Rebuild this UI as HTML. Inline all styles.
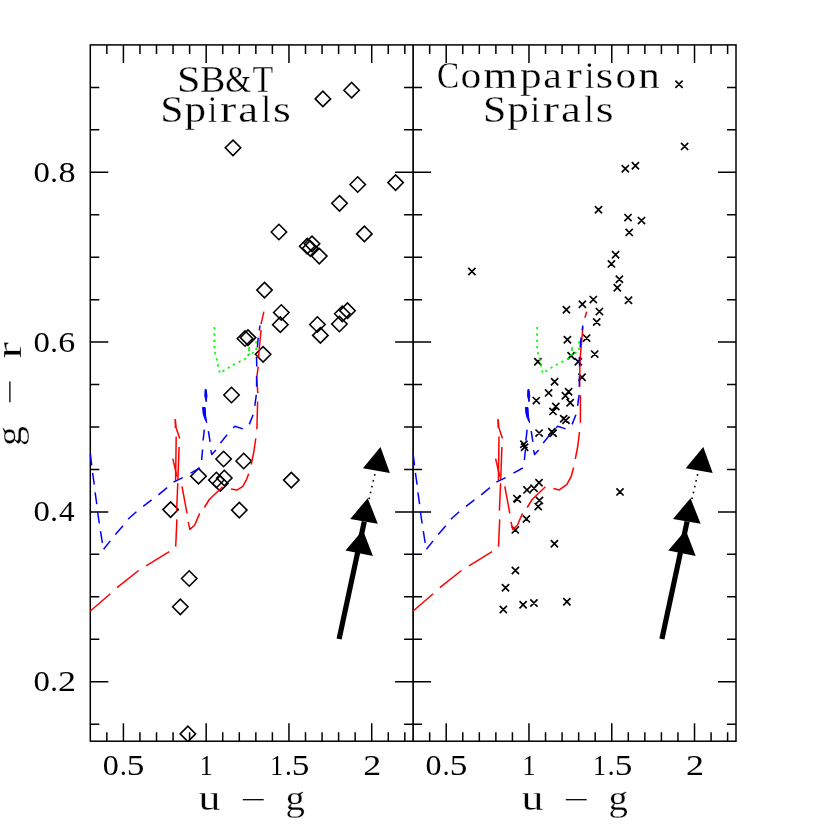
<!DOCTYPE html>
<html><head><meta charset="utf-8"><title>g-r vs u-g</title>
<style>html,body{margin:0;padding:0;background:#fff}svg{display:block;will-change:transform}text{font-family:"Liberation Serif",serif;fill:#000}</style>
</head><body>
<svg width="830" height="830" viewBox="0 0 830 830">
<rect x="0" y="0" width="830" height="830" fill="#fff"/>
<g fill="none" stroke="#000" stroke-width="1.5" stroke-linecap="butt">
<rect x="90.3" y="44.9" width="645.7" height="696.3000000000001"/>
<line x1="413.1" y1="44.9" x2="413.1" y2="741.2" stroke-width="1.7"/>
<path d="M106.85 44.9v9M106.85 741.2v-9M123.41 44.9v18M123.41 741.2v-18M139.96 44.9v9M139.96 741.2v-9M156.52 44.9v9M156.52 741.2v-9M173.07 44.9v9M173.07 741.2v-9M189.62 44.9v9M189.62 741.2v-9M206.18 44.9v18M206.18 741.2v-18M222.73 44.9v9M222.73 741.2v-9M239.28 44.9v9M239.28 741.2v-9M255.84 44.9v9M255.84 741.2v-9M272.39 44.9v9M272.39 741.2v-9M288.95 44.9v18M288.95 741.2v-18M305.50 44.9v9M305.50 741.2v-9M322.05 44.9v9M322.05 741.2v-9M338.61 44.9v9M338.61 741.2v-9M355.16 44.9v9M355.16 741.2v-9M371.72 44.9v18M371.72 741.2v-18M388.27 44.9v9M388.27 741.2v-9M404.82 44.9v9M404.82 741.2v-9M429.65 44.9v9M429.65 741.2v-9M446.21 44.9v18M446.21 741.2v-18M462.76 44.9v9M462.76 741.2v-9M479.32 44.9v9M479.32 741.2v-9M495.87 44.9v9M495.87 741.2v-9M512.42 44.9v9M512.42 741.2v-9M528.98 44.9v18M528.98 741.2v-18M545.53 44.9v9M545.53 741.2v-9M562.08 44.9v9M562.08 741.2v-9M578.64 44.9v9M578.64 741.2v-9M595.19 44.9v9M595.19 741.2v-9M611.75 44.9v18M611.75 741.2v-18M628.30 44.9v9M628.30 741.2v-9M644.85 44.9v9M644.85 741.2v-9M661.41 44.9v9M661.41 741.2v-9M677.96 44.9v9M677.96 741.2v-9M694.52 44.9v18M694.52 741.2v-18M711.07 44.9v9M711.07 741.2v-9M727.62 44.9v9M727.62 741.2v-9M90.3 724.15h9M404.1 724.15h18M736.0 724.15h-9M90.3 681.70h18M395.1 681.70h36M736.0 681.70h-18M90.3 639.25h9M404.1 639.25h18M736.0 639.25h-9M90.3 596.80h9M404.1 596.80h18M736.0 596.80h-9M90.3 554.35h9M404.1 554.35h18M736.0 554.35h-9M90.3 511.90h18M395.1 511.90h36M736.0 511.90h-18M90.3 469.45h9M404.1 469.45h18M736.0 469.45h-9M90.3 427.00h9M404.1 427.00h18M736.0 427.00h-9M90.3 384.55h9M404.1 384.55h18M736.0 384.55h-9M90.3 342.10h18M395.1 342.10h36M736.0 342.10h-18M90.3 299.65h9M404.1 299.65h18M736.0 299.65h-9M90.3 257.20h9M404.1 257.20h18M736.0 257.20h-9M90.3 214.75h9M404.1 214.75h18M736.0 214.75h-9M90.3 172.30h18M395.1 172.30h36M736.0 172.30h-18M90.3 129.85h9M404.1 129.85h18M736.0 129.85h-9M90.3 87.40h9M404.1 87.40h18M736.0 87.40h-9"/>
</g>
<clipPath id="cl"><rect x="90.3" y="44.9" width="322.8" height="696.3000000000001"/></clipPath>
<g fill="none" stroke="#000" stroke-width="1.6" stroke-linejoin="miter" clip-path="url(#cl)">
<path d="M225.3 147.8L233.0 140.1L240.7 147.8L233.0 155.5Z"/>
<path d="M315.2 98.9L322.9 91.2L330.6 98.9L322.9 106.6Z"/>
<path d="M343.9 90.2L351.6 82.5L359.3 90.2L351.6 97.9Z"/>
<path d="M350.0 184.5L357.7 176.8L365.4 184.5L357.7 192.2Z"/>
<path d="M387.9 182.6L395.6 174.9L403.3 182.6L395.6 190.3Z"/>
<path d="M331.8 203.3L339.5 195.6L347.2 203.3L339.5 211.0Z"/>
<path d="M271.2 232.0L278.9 224.3L286.6 232.0L278.9 239.7Z"/>
<path d="M356.7 233.9L364.4 226.2L372.1 233.9L364.4 241.6Z"/>
<path d="M299.5 246.2L307.2 238.5L314.9 246.2L307.2 253.9Z"/>
<path d="M304.3 243.8L312.0 236.1L319.7 243.8L312.0 251.5Z"/>
<path d="M302.5 248.3L310.2 240.6L317.9 248.3L310.2 256.0Z"/>
<path d="M311.6 256.1L319.3 248.4L327.0 256.1L319.3 263.8Z"/>
<path d="M256.8 290.1L264.5 282.4L272.2 290.1L264.5 297.8Z"/>
<path d="M273.6 312.5L281.3 304.8L289.0 312.5L281.3 320.2Z"/>
<path d="M272.6 324.7L280.3 317.0L288.0 324.7L280.3 332.4Z"/>
<path d="M309.7 324.5L317.4 316.8L325.1 324.5L317.4 332.2Z"/>
<path d="M312.7 335.4L320.4 327.7L328.1 335.4L320.4 343.1Z"/>
<path d="M331.7 324.0L339.4 316.3L347.1 324.0L339.4 331.7Z"/>
<path d="M334.6 313.8L342.3 306.1L350.0 313.8L342.3 321.5Z"/>
<path d="M339.8 310.7L347.5 303.0L355.2 310.7L347.5 318.4Z"/>
<path d="M237.3 338.5L245.0 330.8L252.7 338.5L245.0 346.2Z"/>
<path d="M240.3 337.6L248.0 329.9L255.7 337.6L248.0 345.3Z"/>
<path d="M255.4 354.3L263.1 346.6L270.8 354.3L263.1 362.0Z"/>
<path d="M223.8 395.0L231.5 387.3L239.2 395.0L231.5 402.7Z"/>
<path d="M215.9 459.0L223.6 451.3L231.3 459.0L223.6 466.7Z"/>
<path d="M236.0 461.0L243.7 453.3L251.4 461.0L243.7 468.7Z"/>
<path d="M190.8 476.2L198.5 468.5L206.2 476.2L198.5 483.9Z"/>
<path d="M208.7 480.0L216.4 472.3L224.1 480.0L216.4 487.7Z"/>
<path d="M216.6 478.0L224.3 470.3L232.0 478.0L224.3 485.7Z"/>
<path d="M212.6 483.5L220.3 475.8L228.0 483.5L220.3 491.2Z"/>
<path d="M283.6 480.1L291.3 472.4L299.0 480.1L291.3 487.8Z"/>
<path d="M162.9 509.6L170.6 501.9L178.3 509.6L170.6 517.3Z"/>
<path d="M231.6 510.1L239.3 502.4L247.0 510.1L239.3 517.8Z"/>
<path d="M181.5 578.5L189.2 570.8L196.9 578.5L189.2 586.2Z"/>
<path d="M172.6 606.8L180.3 599.1L188.0 606.8L180.3 614.5Z"/>
<path d="M180.2 733.9L187.9 726.2L195.6 733.9L187.9 741.6Z"/>
</g>
<g fill="none" stroke="#000" stroke-width="1.65" stroke-linecap="butt">
<path d="M675.4 80.7L682.6 87.9M675.4 87.9L682.6 80.7M681.0 142.8L688.2 150.0M681.0 150.0L688.2 142.8M621.7 165.1L628.9 172.3M621.7 172.3L628.9 165.1M631.8 162.2L639.0 169.4M631.8 169.4L639.0 162.2M594.9 206.1L602.1 213.3M594.9 213.3L602.1 206.1M624.4 214.0L631.6 221.2M624.4 221.2L631.6 214.0M637.9 217.0L645.1 224.2M637.9 224.2L645.1 217.0M625.6 228.8L632.8 236.0M625.6 236.0L632.8 228.8M612.0 251.1L619.2 258.3M612.0 258.3L619.2 251.1M607.8 260.3L615.0 267.5M607.8 267.5L615.0 260.3M615.8 275.7L623.0 282.9M615.8 282.9L623.0 275.7M613.7 284.2L620.9 291.4M613.7 291.4L620.9 284.2M624.9 296.7L632.1 303.9M624.9 303.9L632.1 296.7M468.3 267.9L475.5 275.1M468.3 275.1L475.5 267.9M589.7 296.0L596.9 303.2M589.7 303.2L596.9 296.0M578.8 300.7L586.0 307.9M578.8 307.9L586.0 300.7M562.8 306.1L570.0 313.3M562.8 313.3L570.0 306.1M595.8 308.0L603.0 315.2M595.8 315.2L603.0 308.0M593.1 318.4L600.3 325.6M593.1 325.6L600.3 318.4M583.0 334.5L590.2 341.7M583.0 341.7L590.2 334.5M563.8 336.2L571.0 343.4M563.8 343.4L571.0 336.2M591.1 350.5L598.3 357.7M591.1 357.7L598.3 350.5M567.5 352.2L574.7 359.4M567.5 359.4L574.7 352.2M574.7 358.1L581.9 365.3M574.7 365.3L581.9 358.1M534.3 358.1L541.5 365.3M534.3 365.3L541.5 358.1M578.4 373.6L585.6 380.8M578.4 380.8L585.6 373.6M551.0 378.1L558.2 385.3M551.0 385.3L558.2 378.1M545.0 389.3L552.2 396.5M545.0 396.5L552.2 389.3M565.0 388.2L572.2 395.4M565.0 395.4L572.2 388.2M561.8 392.2L569.0 399.4M561.8 399.4L569.0 392.2M532.7 397.0L539.9 404.2M532.7 404.2L539.9 397.0M566.6 399.2L573.8 406.4M566.6 406.4L573.8 399.2M552.2 402.9L559.4 410.1M552.2 410.1L559.4 402.9M549.4 407.8L556.6 415.0M549.4 415.0L556.6 407.8M560.1 415.2L567.3 422.4M560.1 422.4L567.3 415.2M562.4 416.6L569.6 423.8M562.4 423.8L569.6 416.6M535.5 429.5L542.7 436.7M535.5 436.7L542.7 429.5M548.3 428.1L555.5 435.3M548.3 435.3L555.5 428.1M549.5 429.6L556.7 436.8M549.5 436.8L556.7 429.6M520.3 440.7L527.5 447.9M520.3 447.9L527.5 440.7M521.0 443.7L528.2 450.9M521.0 450.9L528.2 443.7M535.4 479.2L542.6 486.4M535.4 486.4L542.6 479.2M530.4 484.6L537.6 491.8M530.4 491.8L537.6 484.6M523.4 486.3L530.6 493.5M523.4 493.5L530.6 486.3M513.3 495.0L520.5 502.2M513.3 502.2L520.5 495.0M513.8 495.5L521.0 502.7M513.8 502.7L521.0 495.5M535.8 496.8L543.0 504.0M535.8 504.0L543.0 496.8M534.6 503.0L541.8 510.2M534.6 510.2L541.8 503.0M522.8 515.3L530.0 522.5M522.8 522.5L530.0 515.3M511.7 526.3L518.9 533.5M511.7 533.5L518.9 526.3M616.4 488.3L623.6 495.5M616.4 495.5L623.6 488.3M550.8 540.1L558.0 547.3M550.8 547.3L558.0 540.1M511.8 566.9L519.0 574.1M511.8 574.1L519.0 566.9M501.9 584.2L509.1 591.4M501.9 591.4L509.1 584.2M499.7 605.9L506.9 613.1M499.7 613.1L506.9 605.9M519.5 601.1L526.7 608.3M519.5 608.3L526.7 601.1M530.3 599.4L537.5 606.6M530.3 606.6L537.5 599.4M563.3 598.2L570.5 605.4M563.3 605.4L570.5 598.2"/>
</g>
<g fill="none" stroke-linecap="butt" stroke-linejoin="round">
<path d="M214.40 326.95L214.40 329.25M214.30 333.35L214.30 335.65M214.30 339.65L214.30 341.95M214.29 345.96L214.51 348.24M214.87 352.17L215.33 354.43M216.52 358.28L217.08 360.52M217.72 364.28L218.28 366.52M219.22 370.38L219.78 372.62M222.42 371.59L224.38 370.41M227.72 368.19L229.68 367.01M232.92 365.09L234.88 363.91M238.62 362.19L240.58 361.01M244.12 359.49L246.08 358.31M247.45 355.60L249.95 353.60M248.90 351.09L249.30 347.11M251.89 353.71L253.51 352.09M256.20 347.75L256.20 350.05M256.20 341.25L256.20 343.55" stroke="#00ff00" stroke-width="1.75"/>
<g stroke="#ff0000" stroke-width="1.5">
<polyline points="90.4,611.0 110.3,593.8"/>
<polyline points="117.0,587.7 138.6,570.5"/>
<polyline points="146.1,565.9 169.3,551.6"/>
<polyline points="175.7,546.6 176.9,519.4"/>
<polyline points="176.6,510.6 177.8,483.2"/>
<polyline points="176.2,436.4 175.6,480.8"/>
<polyline points="179.1,447.0 177.9,479.8"/>
<polyline points="172.8,458.7 176.9,476.6"/>
<polyline points="175.3,419.3 176.0,427.5 179.7,438.4"/>
<polyline points="175.3,419.3 175.4,428.0"/>
<polyline points="182.0,486.4 187.0,513.4"/>
<polyline points="188.2,521.8 189.9,529.4 194.6,525.2 199.7,513.4"/>
<polyline points="204.4,507.5 209.3,499.5 222.6,486.8"/>
<polyline points="231.0,488.9 236.9,490.1 242.8,486.4 246.4,479.8 248.7,473.7"/>
<polyline points="251.2,464.5 253.8,452.0 255.8,438.3"/>
<polyline points="256.9,429.3 257.6,401.6"/>
<polyline points="257.8,393.1 256.7,378.1 258.2,366.6"/>
<polyline points="258.6,356.9 261.0,329.9"/>
<polyline points="261.0,324.1 263.9,311.6"/>
</g>
<g stroke="#0000ff" stroke-width="1.5">
<polyline points="90.4,454.3 91.7,465.3"/>
<polyline points="92.6,472.9 94.3,484.7"/>
<polyline points="95.1,492.3 96.8,504.1"/>
<polyline points="97.6,511.7 99.3,523.5"/>
<polyline points="100.5,531.1 102.4,542.9"/>
<polyline points="103.6,549.3 110.3,540.9"/>
<polyline points="115.4,534.5 123.0,525.7"/>
<polyline points="128.0,519.3 136.4,511.7"/>
<polyline points="143.2,506.3 151.6,499.9"/>
<polyline points="158.4,494.8 167.1,487.7"/>
<polyline points="173.5,482.2 182.8,477.6"/>
<polyline points="190.6,473.2 200.0,468.0"/>
<polyline points="201.6,460.0 202.6,449.5"/>
<polyline points="203.1,440.5 204.3,429.6"/>
<polyline points="208.4,431.2 210.1,441.9"/>
<polyline points="210.8,450.2 211.8,454.6 215.9,449.9"/>
<polyline points="220.4,443.0 227.1,434.8"/>
<polyline points="233.2,427.9 235.0,426.3 242.8,428.9"/>
<polyline points="249.3,424.4 253.1,414.8"/>
<polyline points="254.8,405.9 256.3,394.9"/>
<polyline points="256.6,386.6 256.6,376.2"/>
<polyline points="256.8,366.5 256.5,357.0"/>
<polyline points="257.4,347.5 258.2,337.6"/>
<polyline points="259.3,330.4 260.0,325.5"/>
</g>
<polygon points="202.6,407.4 203.2,414.0 204.6,418.5 206.8,422.7 205.6,415.0 205.2,407.6" fill="#0000ff" stroke="#0000ff" stroke-width="1"/>
<polygon points="205.1,389.5 204.8,396.0 206.2,401.8 207.0,396.0 206.2,389.5" fill="#0000ff" stroke="#0000ff" stroke-width="1"/>
</g>
<g fill="none" stroke-linecap="butt" stroke-linejoin="round">
<path d="M537.20 326.95L537.20 329.25M537.10 333.35L537.10 335.65M537.10 339.65L537.10 341.95M537.09 345.96L537.31 348.24M537.67 352.17L538.13 354.43M539.32 358.28L539.88 360.52M540.52 364.28L541.08 366.52M542.02 370.38L542.58 372.62M545.22 371.59L547.18 370.41M550.52 368.19L552.48 367.01M555.72 365.09L557.68 363.91M561.42 362.19L563.38 361.01M566.92 359.49L568.88 358.31M570.25 355.60L572.75 353.60M571.70 351.09L572.10 347.11M574.69 353.71L576.31 352.09M579.00 347.75L579.00 350.05M579.00 341.25L579.00 343.55" stroke="#00ff00" stroke-width="1.75"/>
<g stroke="#ff0000" stroke-width="1.5">
<polyline points="413.2,611.0 433.1,593.8"/>
<polyline points="439.8,587.7 461.4,570.5"/>
<polyline points="468.9,565.9 492.1,551.6"/>
<polyline points="498.5,546.6 499.7,519.4"/>
<polyline points="499.4,510.6 500.6,483.2"/>
<polyline points="499.0,436.4 498.4,480.8"/>
<polyline points="501.9,447.0 500.7,479.8"/>
<polyline points="495.6,458.7 499.7,476.6"/>
<polyline points="498.1,419.3 498.8,427.5 502.5,438.4"/>
<polyline points="498.1,419.3 498.2,428.0"/>
<polyline points="504.8,486.4 509.8,513.4"/>
<polyline points="511.0,521.8 512.7,529.4 517.4,525.2 522.5,513.4"/>
<polyline points="527.2,507.5 532.1,499.5 545.4,486.8"/>
<polyline points="553.4,488.5 559.3,489.9 566.9,484.3 571.1,476.7 573.6,467.5"/>
<polyline points="575.3,459.0 577.8,446.0 579.5,432.0"/>
<polyline points="580.4,422.8 580.4,395.4"/>
<polyline points="579.5,387.0 580.0,360.0 582.9,327.1"/>
<polyline points="584.9,317.8 586.6,311.6"/>
</g>
<g stroke="#0000ff" stroke-width="1.5">
<polyline points="413.2,454.3 414.5,465.3"/>
<polyline points="415.4,472.9 417.1,484.7"/>
<polyline points="417.9,492.3 419.6,504.1"/>
<polyline points="420.4,511.7 422.1,523.5"/>
<polyline points="423.3,531.1 425.2,542.9"/>
<polyline points="426.4,549.3 433.1,540.9"/>
<polyline points="438.2,534.5 445.8,525.7"/>
<polyline points="450.8,519.3 459.2,511.7"/>
<polyline points="466.0,506.3 474.4,499.9"/>
<polyline points="481.2,494.8 489.9,487.7"/>
<polyline points="496.3,482.2 505.6,477.6"/>
<polyline points="513.4,473.2 522.8,468.0"/>
<polyline points="524.4,460.0 525.4,449.5"/>
<polyline points="525.9,440.5 527.1,429.6"/>
<polyline points="531.2,431.2 532.9,441.9"/>
<polyline points="533.6,450.2 534.6,454.6 538.7,449.9"/>
<polyline points="543.2,443.0 549.9,434.8"/>
<polyline points="556.0,427.9 557.8,426.3 565.6,428.9"/>
<polyline points="572.1,424.4 575.9,414.8"/>
<polyline points="577.6,405.9 579.1,394.9"/>
<polyline points="579.4,386.6 579.4,376.2"/>
<polyline points="579.6,366.5 579.3,357.0"/>
<polyline points="580.2,347.5 581.0,337.6"/>
<polyline points="582.1,330.4 582.8,325.5"/>
</g>
<polygon points="525.4,407.4 526.0,414.0 527.4,418.5 529.6,422.7 528.4,415.0 528.0,407.6" fill="#0000ff" stroke="#0000ff" stroke-width="1"/>
<polygon points="527.9,389.5 527.6,396.0 529.0,401.8 529.8,396.0 529.0,389.5" fill="#0000ff" stroke="#0000ff" stroke-width="1"/>
</g>
<g transform="translate(0,0)">
<line x1="339.1" y1="639" x2="364.3" y2="521.5" stroke="#000" stroke-width="5.2"/>
<line x1="369.1" y1="499.1" x2="375.2" y2="472.6" stroke="#000" stroke-width="1.6" stroke-dasharray="1.6 4.4"/>
<polygon points="380.5,447.1 362.9,468.3 389.9,472.9" fill="#000"/>
<polygon points="367.7,498.2 350.2,518.9 377.8,523.7" fill="#000"/>
<polygon points="362.9,530.0 345.5,550.5 372.9,555.9" fill="#000"/>
</g>
<g transform="translate(322.8,0)">
<line x1="339.1" y1="639" x2="364.3" y2="521.5" stroke="#000" stroke-width="5.2"/>
<line x1="369.1" y1="499.1" x2="375.2" y2="472.6" stroke="#000" stroke-width="1.6" stroke-dasharray="1.6 4.4"/>
<polygon points="380.5,447.1 362.9,468.3 389.9,472.9" fill="#000"/>
<polygon points="367.7,498.2 350.2,518.9 377.8,523.7" fill="#000"/>
<polygon points="362.9,530.0 345.5,550.5 372.9,555.9" fill="#000"/>
</g>
<text transform="translate(176.98,92.10) scale(1.139,1)" font-size="37" stroke="#fff" stroke-width="0.3" vector-effect="non-scaling-stroke">S</text>
<text transform="translate(200.01,92.10) scale(1.027,1)" font-size="37" stroke="#fff" stroke-width="0.3" vector-effect="non-scaling-stroke">B</text>
<text transform="translate(225.37,92.10) scale(0.900,1)" font-size="37" stroke="#fff" stroke-width="0.3" vector-effect="non-scaling-stroke">&amp;</text>
<text transform="translate(252.49,92.10) scale(0.915,1)" font-size="37" stroke="#fff" stroke-width="0.3" vector-effect="non-scaling-stroke">T</text>
<text transform="translate(160.20,122.40) scale(1.132,1)" font-size="37" stroke="#fff" stroke-width="0.3" vector-effect="non-scaling-stroke">S</text>
<text transform="translate(184.40,122.40) scale(1.167,1)" font-size="37" stroke="#fff" stroke-width="0.3" vector-effect="non-scaling-stroke">p</text>
<text transform="translate(207.78,122.40) scale(0.932,1)" font-size="37" stroke="#fff" stroke-width="0.3" vector-effect="non-scaling-stroke">i</text>
<text transform="translate(219.92,122.40) scale(1.324,1)" font-size="37" stroke="#fff" stroke-width="0.3" vector-effect="non-scaling-stroke">r</text>
<text transform="translate(238.22,122.40) scale(1.211,1)" font-size="37" stroke="#fff" stroke-width="0.3" vector-effect="non-scaling-stroke">a</text>
<text transform="translate(261.43,122.40) scale(0.909,1)" font-size="37" stroke="#fff" stroke-width="0.3" vector-effect="non-scaling-stroke">l</text>
<text transform="translate(272.92,122.40) scale(1.239,1)" font-size="37" stroke="#fff" stroke-width="0.3" vector-effect="non-scaling-stroke">s</text>
<text transform="translate(483.00,122.40) scale(1.132,1)" font-size="37" stroke="#fff" stroke-width="0.3" vector-effect="non-scaling-stroke">S</text>
<text transform="translate(507.20,122.40) scale(1.167,1)" font-size="37" stroke="#fff" stroke-width="0.3" vector-effect="non-scaling-stroke">p</text>
<text transform="translate(530.58,122.40) scale(0.932,1)" font-size="37" stroke="#fff" stroke-width="0.3" vector-effect="non-scaling-stroke">i</text>
<text transform="translate(542.72,122.40) scale(1.324,1)" font-size="37" stroke="#fff" stroke-width="0.3" vector-effect="non-scaling-stroke">r</text>
<text transform="translate(561.02,122.40) scale(1.211,1)" font-size="37" stroke="#fff" stroke-width="0.3" vector-effect="non-scaling-stroke">a</text>
<text transform="translate(584.23,122.40) scale(0.909,1)" font-size="37" stroke="#fff" stroke-width="0.3" vector-effect="non-scaling-stroke">l</text>
<text transform="translate(595.72,122.40) scale(1.239,1)" font-size="37" stroke="#fff" stroke-width="0.3" vector-effect="non-scaling-stroke">s</text>
<text transform="translate(437.03,87.80) scale(0.900,1)" font-size="37" stroke="#fff" stroke-width="0.3" vector-effect="non-scaling-stroke">C</text>
<text transform="translate(460.62,87.80) scale(1.122,1)" font-size="37" stroke="#fff" stroke-width="0.3" vector-effect="non-scaling-stroke">o</text>
<text transform="translate(483.28,87.80) scale(1.185,1)" font-size="37" stroke="#fff" stroke-width="0.3" vector-effect="non-scaling-stroke">m</text>
<text transform="translate(520.10,87.80) scale(1.173,1)" font-size="37" stroke="#fff" stroke-width="0.3" vector-effect="non-scaling-stroke">p</text>
<text transform="translate(543.22,87.80) scale(1.136,1)" font-size="37" stroke="#fff" stroke-width="0.3" vector-effect="non-scaling-stroke">a</text>
<text transform="translate(566.05,87.80) scale(1.288,1)" font-size="37" stroke="#fff" stroke-width="0.3" vector-effect="non-scaling-stroke">r</text>
<text transform="translate(584.94,87.80) scale(0.900,1)" font-size="37" stroke="#fff" stroke-width="0.3" vector-effect="non-scaling-stroke">i</text>
<text transform="translate(595.86,87.80) scale(1.213,1)" font-size="37" stroke="#fff" stroke-width="0.3" vector-effect="non-scaling-stroke">s</text>
<text transform="translate(615.62,87.80) scale(1.122,1)" font-size="37" stroke="#fff" stroke-width="0.3" vector-effect="non-scaling-stroke">o</text>
<text transform="translate(638.21,87.80) scale(1.170,1)" font-size="37" stroke="#fff" stroke-width="0.3" vector-effect="non-scaling-stroke">n</text>
<text transform="translate(102.78,774.50) scale(1.126,1)" font-size="28.5">0</text>
<text transform="translate(119.91,774.50) scale(0.950,1)" font-size="28.5">.</text>
<text transform="translate(126.85,774.50) scale(1.237,1)" font-size="28.5">5</text>
<text transform="translate(199.63,774.50) scale(0.907,1)" font-size="28.5">1</text>
<text transform="translate(270.23,774.50) scale(0.907,1)" font-size="28.5">1</text>
<text transform="translate(284.91,774.50) scale(0.950,1)" font-size="28.5">.</text>
<text transform="translate(291.85,774.50) scale(1.237,1)" font-size="28.5">5</text>
<text transform="translate(363.22,774.50) scale(1.260,1)" font-size="28.5">2</text>
<text transform="translate(425.58,774.50) scale(1.126,1)" font-size="28.5">0</text>
<text transform="translate(442.71,774.50) scale(0.950,1)" font-size="28.5">.</text>
<text transform="translate(449.65,774.50) scale(1.237,1)" font-size="28.5">5</text>
<text transform="translate(522.43,774.50) scale(0.907,1)" font-size="28.5">1</text>
<text transform="translate(593.03,774.50) scale(0.907,1)" font-size="28.5">1</text>
<text transform="translate(607.71,774.50) scale(0.950,1)" font-size="28.5">.</text>
<text transform="translate(614.65,774.50) scale(1.237,1)" font-size="28.5">5</text>
<text transform="translate(686.02,774.50) scale(1.260,1)" font-size="28.5">2</text>
<text transform="translate(33.55,691.20) scale(1.151,1)" font-size="28.5">0</text>
<text transform="translate(50.29,691.20) scale(1.069,1)" font-size="28.5">.</text>
<text transform="translate(58.11,691.20) scale(1.269,1)" font-size="28.5">2</text>
<text transform="translate(33.55,521.40) scale(1.151,1)" font-size="28.5">0</text>
<text transform="translate(50.29,521.40) scale(1.069,1)" font-size="28.5">.</text>
<text transform="translate(59.09,521.40) scale(1.095,1)" font-size="28.5">4</text>
<text transform="translate(33.55,351.60) scale(1.151,1)" font-size="28.5">0</text>
<text transform="translate(50.29,351.60) scale(1.069,1)" font-size="28.5">.</text>
<text transform="translate(58.24,351.60) scale(1.191,1)" font-size="28.5">6</text>
<text transform="translate(33.55,181.80) scale(1.151,1)" font-size="28.5">0</text>
<text transform="translate(50.29,181.80) scale(1.069,1)" font-size="28.5">.</text>
<text transform="translate(58.40,181.80) scale(1.200,1)" font-size="28.5">8</text>
<text transform="translate(198.42,809.90) scale(1.218,1)" font-size="36" stroke="#fff" stroke-width="0.3" vector-effect="non-scaling-stroke">u</text>
<text transform="translate(285.53,809.90) scale(1.078,1)" font-size="36" stroke="#fff" stroke-width="0.3" vector-effect="non-scaling-stroke">g</text>
<line x1="242.8" y1="799.7" x2="263.7" y2="799.7" stroke="#000" stroke-width="1.3"/>
<text transform="translate(521.42,809.90) scale(1.218,1)" font-size="36" stroke="#fff" stroke-width="0.3" vector-effect="non-scaling-stroke">u</text>
<text transform="translate(608.53,809.90) scale(1.078,1)" font-size="36" stroke="#fff" stroke-width="0.3" vector-effect="non-scaling-stroke">g</text>
<line x1="565.8" y1="799.7" x2="586.7" y2="799.7" stroke="#000" stroke-width="1.3"/>
<text transform="translate(20.6,0) rotate(-90) translate(-445.91,0.00) scale(1.104,1)" font-size="36" stroke="#fff" stroke-width="0.3" vector-effect="non-scaling-stroke">g</text>
<text transform="translate(20.6,0) rotate(-90) translate(-358.82,0.00) scale(1.400,1)" font-size="36" stroke="#fff" stroke-width="0.3" vector-effect="non-scaling-stroke">r</text>
<line x1="9.9" y1="381.6" x2="9.9" y2="402.2" stroke="#000" stroke-width="1.3"/>
</svg></body></html>
